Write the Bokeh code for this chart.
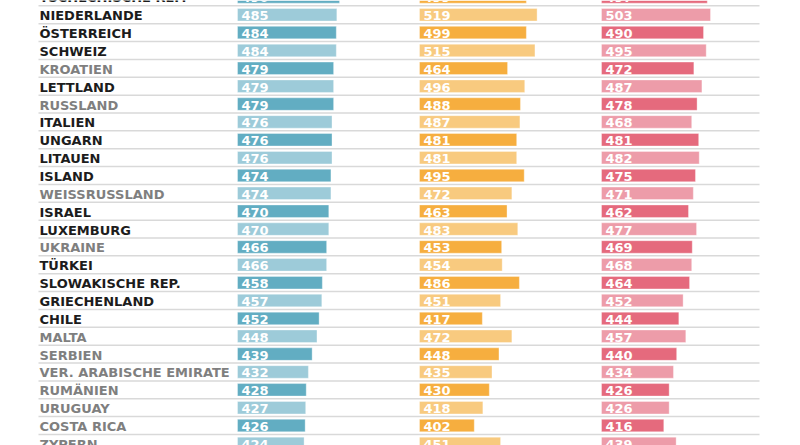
from bokeh.plotting import figure
from bokeh.models import ColumnDataSource, Range1d
from bokeh.core.properties import value
from bokeh.embed import file_html
from bokeh.resources import INLINE

countries = ["TSCHECHISCHE REP.", "NIEDERLANDE", "ÖSTERREICH", "SCHWEIZ", "KROATIEN",
             "LETTLAND", "RUSSLAND", "ITALIEN", "UNGARN", "LITAUEN", "ISLAND",
             "WEISSRUSSLAND", "ISRAEL", "LUXEMBURG", "UKRAINE", "TÜRKEI",
             "SLOWAKISCHE REP.", "GRIECHENLAND", "CHILE", "MALTA", "SERBIEN",
             "VER. ARABISCHE EMIRATE", "RUMÄNIEN", "URUGUAY", "COSTA RICA", "ZYPERN"]
oecd = [True, True, True, True, False, True, False, True, True, True, True,
        False, True, True, False, True, True, True, True, False, False,
        False, False, False, False, False]
reading = [490, 485, 484, 484, 479, 479, 479, 476, 476, 476, 474, 474, 470, 470,
           466, 466, 458, 457, 452, 448, 439, 432, 428, 427, 426, 424]
math = [499, 519, 499, 515, 464, 496, 488, 487, 481, 481, 495, 472, 463, 483,
        453, 454, 486, 451, 417, 472, 448, 435, 430, 418, 402, 451]
science = [497, 503, 490, 495, 472, 487, 478, 468, 481, 482, 475, 471, 462, 477,
           469, 468, 464, 452, 444, 457, 440, 434, 426, 426, 416, 439]

BASE = 300
W, H = 800, 445
K = 0.537          # px per score point
PITCH = 17.86
ROW0 = -3.6        # px center of first row

n = len(countries)
rows = list(range(n))

p = figure(width=W, height=H, output_backend="svg", toolbar_location=None,
           x_range=Range1d(0, W),
           y_range=Range1d((H - ROW0) / PITCH, (0 - ROW0) / PITCH),
           min_border=0, outline_line_color=None)
p.axis.visible = False
p.grid.visible = False
p.background_fill_color = "white"
p.border_fill_color = "white"

col_starts = {"read": 237, "math": 419, "sci": 601}
for name, s in col_starts.items():
    start = BASE - s / K
    p.extra_x_ranges[name] = Range1d(start, start + W / K)

# separators
sep_y = [i + 0.5 for i in range(-1, n)]
p.segment(x0=[38] * len(sep_y), x1=[759] * len(sep_y), y0=sep_y, y1=sep_y,
          line_color="#d9d9d9", line_width=1.5)

series = [
    ("read", reading, "#62adc2", "#9dcbd9"),
    ("math", math, "#f6ae3f", "#f8ca7f"),
    ("sci", science, "#e56a7d", "#ed9ca9"),
]
for name, vals, dark, light in series:
    colors = [dark if i % 2 == 0 else light for i in rows]
    src = ColumnDataSource(dict(y=rows, right=vals, left=[BASE] * n, c=colors,
                                t=[str(v) for v in vals]))
    p.hbar(y="y", left="left", right="right", height=0.7, fill_color="c",
           line_color="white", line_alpha=0.35, line_width=1,
           source=src, x_range_name=name)
    p.text(x="left", y="y", text="t", source=src, x_range_name=name,
           x_offset=4, y_offset=1, text_color="white", text_font_size="13px",
           text_font=value("DejaVu Sans"), text_font_style="bold",
           text_baseline="middle", text_align="left")

lab = ColumnDataSource(dict(x=[39] * n, y=rows, t=countries,
                            c=["#1c1c1c" if o else "#7f7f7f" for o in oecd]))
p.text(x="x", y="y", text="t", source=lab, text_color="c",
       text_font_size="13px", text_font=value("DejaVu Sans"),
       text_font_style="bold", text_baseline="middle", text_align="left",
       y_offset=1)

open("out.html", "w").write(file_html(p, INLINE))
